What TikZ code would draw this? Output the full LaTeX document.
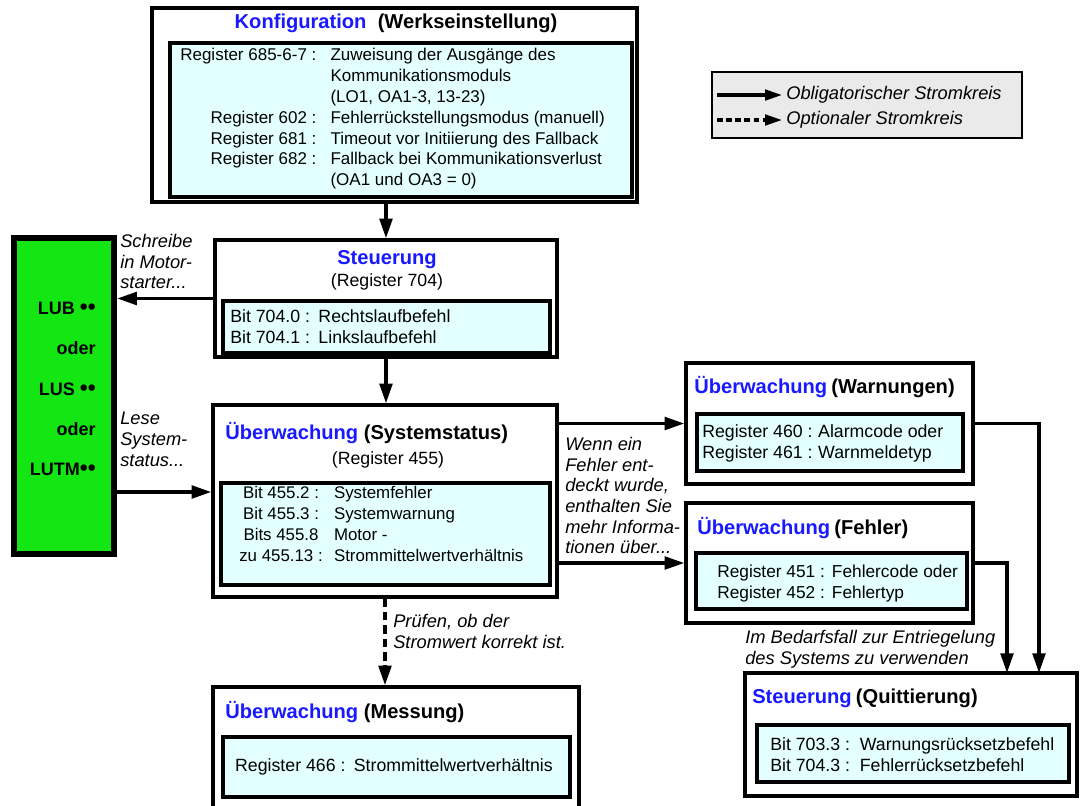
\documentclass[tikz,border=0pt]{standalone}
\usepackage{fontspec}
\setmainfont{Liberation Sans}
\usepackage{tikz}
\usetikzlibrary{arrows.meta,fit,calc}
\definecolor{regfill}{RGB}{228,255,255}
\definecolor{legfill}{RGB}{234,234,234}
\definecolor{lugreen}{RGB}{20,230,20}
\definecolor{titleblue}{RGB}{25,25,255}

\begin{document}
\begin{tikzpicture}[x=0.025cm, y=-0.025cm,
  box/.style={draw, line width=2.4pt, fill=white, inner sep=0pt},
  regbox/.style={draw, line width=2.4pt, fill=regfill, inner sep=0pt},
  titel/.style={font=\fontsize{14.3}{17}\selectfont\bfseries, inner sep=0pt},
  reg/.style={font=\fontsize{12.6}{14.8}\selectfont, inner sep=0pt},
  note/.style={font=\fontsize{13}{14.7}\selectfont\itshape, align=left, anchor=north west, inner sep=0pt},
  flow/.style={line width=2.4pt, -{Triangle[length=14pt,width=9pt]}},
  opt/.style={flow, dash pattern=on 6pt off 3.5pt}]
\useasboundingbox (0,0) rectangle (1080,805);

\node[draw, line width=0.8pt, fill=legfill, inner sep=0pt, fit={(712,72) (1022,138)}] (legende) {};
\coordinate (l1a) at (717,95);
\coordinate (l1b) at (782,95);
\coordinate (l2a) at (717,120);
\coordinate (l2b) at (782,120);
\draw[line width=2.2pt, -{Triangle[length=12pt,width=7.5pt]}] (l1a) -- (l1b);
\draw[line width=2.2pt, dash pattern=on 4pt off 2.5pt, -{Triangle[length=12pt,width=7.5pt]}] (l2a) -- (l2b);
\node[note, anchor=west] (l1) at (786,95) {Obligatorischer Stromkreis};
\node[note, anchor=west] (l2) at (786,120) {Optionaler Stromkreis};

\node[box, fit={(152,8) (637,202)}] (konf) {};
\node[titel] (konftitel) at (396,23) {\textcolor{titleblue}{Konfiguration}\hspace{8pt}(Werkseinstellung)};
\node[regbox, fit={(170,43) (632,197)}] (konfreg) {};
\node[reg, font=\fontsize{12.1}{14.8}\selectfont, anchor=north west] (konftext) at (180,46) {\begin{tabular}{@{}r@{\hspace{10pt}}l@{}}
Register 685-6-7 : & Zuweisung der Ausgänge des\\
 & Kommunikationsmoduls\\
 & (LO1, OA1-3, 13-23)\\
Register 602 : & Fehlerrückstellungsmodus (manuell)\\
Register 681 : & Timeout vor Initiierung des Fallback\\
Register 682 : & Fallback bei Kommunikationsverlust\\
 & (OA1 und OA3 = 0)
\end{tabular}};

\node[draw, line width=4.5pt, fill=lugreen, inner sep=0pt, fit={(14,238) (114,554)}] (motor) {};
\node[font=\fontsize{12.8}{28.7}\selectfont\bfseries, align=right, anchor=east, inner sep=0pt] (motortext) at (96,389)
  {LUB {\fontsize{16}{16}\selectfont\textbullet\textbullet}\\oder\\LUS {\fontsize{16}{16}\selectfont\textbullet\textbullet}\\oder\\LUTM{\fontsize{16}{16}\selectfont\textbullet\textbullet}};

\node[box, fit={(215,240) (557,357)}] (steu) {};
\node[titel, text=titleblue] (steutitel) at (387,260) {Steuerung};
\node[reg] (steusub) at (387,282) {(Register 704)};
\node[regbox, fit={(223,301) (550,353)}] (steureg) {};
\node[reg, anchor=north west] (steutext) at (230,308) {\begin{tabular}{@{}l@{\hspace{6pt}}l@{}}
Bit 704.0 : & Rechtslaufbefehl\\
Bit 704.1 : & Linkslaufbefehl
\end{tabular}};

\node[box, fit={(213,405) (557,597)}] (syst) {};
\node[titel, anchor=west] (systtitel) at (225,433) {\textcolor{titleblue}{Überwachung}\hspace{4pt}(Systemstatus)};
\node[reg] (systsub) at (388,460) {(Register 455)};
\node[regbox, fit={(221,483) (550,585)}] (systreg) {};
\node[reg, font=\fontsize{12}{14.8}\selectfont, anchor=north west] (systtext) at (239,484) {\begin{tabular}{@{}c@{\hspace{8pt}}l@{}}
Bit 455.2 : & Systemfehler\\
Bit 455.3 : & Systemwarnung\\
Bits 455.8 & Motor -\\
zu 455.13 : & Strommittelwertverhältnis
\end{tabular}};

\node[box, fit={(686,363) (973,484)}] (warn) {};
\node[titel, anchor=west] (warntitel) at (694,387) {\textcolor{titleblue}{Überwachung}\hspace{3pt}(Warnungen)};
\node[regbox, fit={(697,414) (963,471)}] (warnreg) {};
\node[reg, anchor=north west] (warntext) at (702,423) {\begin{tabular}{@{}l@{\hspace{4pt}}l@{}}
Register 460 : & Alarmcode oder\\
Register 461 : & Warnmeldetyp
\end{tabular}};

\node[box, fit={(686,503) (973,623)}] (fehl) {};
\node[titel, anchor=west] (fehltitel) at (697,528) {\textcolor{titleblue}{Überwachung}\hspace{3pt}(Fehler)};
\node[regbox, fit={(696,553) (967,609)}] (fehlreg) {};
\node[reg, font=\fontsize{12.3}{14.8}\selectfont, anchor=north west] (fehltext) at (717,563) {\begin{tabular}{@{}l@{\hspace{5pt}}l@{}}
Register 451 : & Fehlercode oder\\
Register 452 : & Fehlertyp
\end{tabular}};

\node[box, fit={(745,673) (1077,796)}] (quit) {};
\node[titel, anchor=west] (quittitel) at (752,698) {\textcolor{titleblue}{Steuerung}\hspace{3pt}(Quittierung)};
\node[regbox, fit={(757,725) (1069,782)}] (quitreg) {};
\node[reg, anchor=north west] (quittext) at (770,736) {\begin{tabular}{@{}l@{\hspace{7pt}}l@{}}
Bit 703.3 : & Warnungsrücksetzbefehl\\
Bit 704.3 : & Fehlerrücksetzbefehl
\end{tabular}};

\node[box, fit={(213,687) (579,815)}] (mess) {};
\node[titel, anchor=west] (messtitel) at (225,712) {\textcolor{titleblue}{Überwachung}\hspace{4pt}(Messung)};
\node[regbox, fit={(223,737) (570,797)}] (messreg) {};
\node[reg] (messtext) at (394,767) {Register 466 :\hspace{6pt}Strommittelwertverhältnis};

\coordinate (lese) at (116,492);
\coordinate (qf) at (1007,673);
\coordinate (qw) at (1039,673);
\draw[flow] (konf.south -| steu.north) -- (steu.north);
\draw[flow] (steu.south) -- (steu.south |- syst.north);
\draw[flow] (steu.west) -- (steu.west -| motor.east);
\draw[flow] (lese) -- (lese -| syst.west);
\draw[flow] (syst.east |- warn.west) -- (warn.west);
\draw[flow] (syst.east |- fehl.west) -- (fehl.west);
\draw[flow] (warn.east) -| (qw);
\draw[flow] (fehl.east) -| (qf);
\draw[opt] (syst.south) -- (syst.south |- mess.north);

\node[note] (schreibe) at (120,234) {Schreibe\\in Motor-\\starter...};
\node[note] (leselabel) at (120,412) {Lese\\System-\\status...};
\node[note] (wenn) at (565,437) {Wenn ein\\Fehler ent-\\deckt wurde,\\enthalten Sie\\mehr Informa-\\tionen über...};
\node[note] (pruefen) at (393,614) {Prüfen, ob der\\Stromwert korrekt ist.};
\node[note] (bedarf) at (745,630) {Im Bedarfsfall zur Entriegelung\\des Systems zu verwenden};
\end{tikzpicture}
\end{document}
